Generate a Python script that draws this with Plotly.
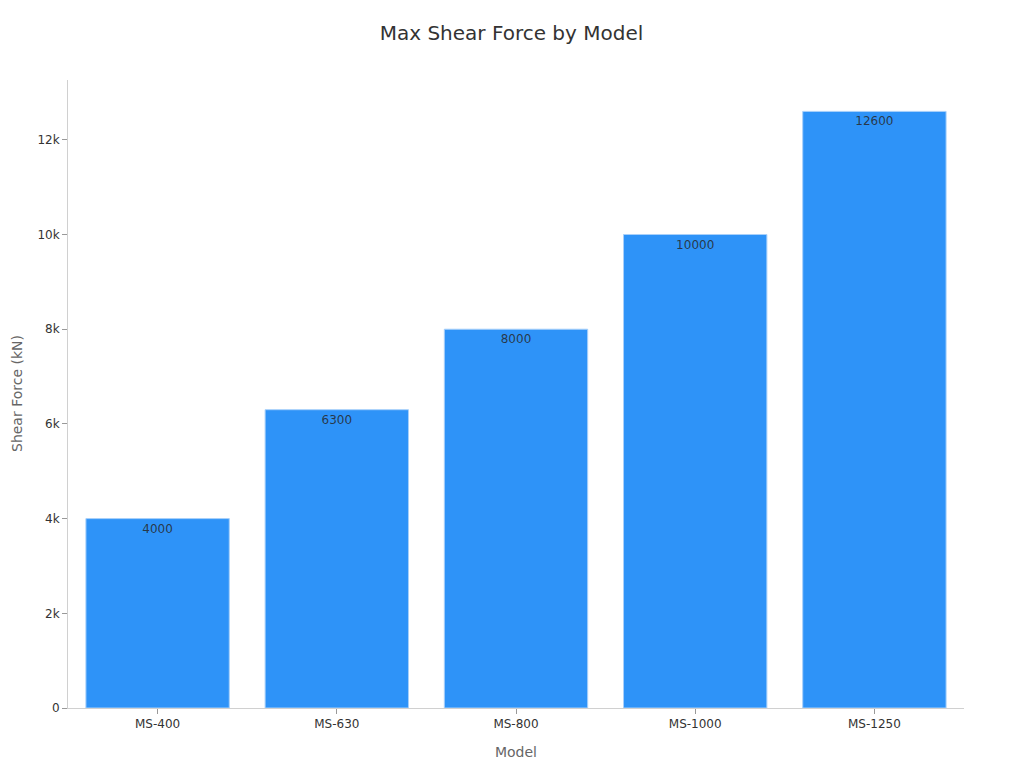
import plotly.graph_objects as go

models = ["MS-400", "MS-630", "MS-800", "MS-1000", "MS-1250"]
shear_force = [4000, 6300, 8000, 10000, 12600]

fig = go.Figure(go.Bar(
    x=models,
    y=shear_force,
    text=[str(v) for v in shear_force],
    textposition="inside",
    insidetextanchor="end",
    textfont=dict(family="DejaVu Sans", size=12, color="rgba(40,40,40,0.85)"),
    marker=dict(color="#2e93f8", line=dict(color="#a8d0fa", width=1)),
))

fig.update_layout(
    width=1024, height=768,
    margin=dict(l=60, r=68, t=72, b=68),
    paper_bgcolor="white", plot_bgcolor="white",
    font=dict(family="DejaVu Sans", color="#333"),
    title=dict(text="Max Shear Force by Model", x=0.5 - 8.5 / 1024, xanchor="center",
               y=1 - 25 / 768, yanchor="middle",
               font=dict(size=20, color="#333")),
    bargap=0.2,
    showlegend=False,
    annotations=[dict(
        text="Shear Force (kN)", xref="paper", yref="paper", x=0, y=0.5,
        xanchor="center", yanchor="middle", xshift=-51, textangle=-90,
        showarrow=False, font=dict(size=14, color="#666"),
    )],
)
fig.update_xaxes(
    title=dict(text="Model", font=dict(size=14, color="#666"), standoff=16),
    showline=True, linecolor="#d0d0d0", linewidth=1,
    ticks="outside", ticklen=5, tickcolor="#999", tickfont=dict(size=12, color="#333"),
    showgrid=False,
)
fig.update_yaxes(
    showline=True, linecolor="#d0d0d0", linewidth=1,
    ticks="outside", ticklen=5, tickcolor="#999", tickfont=dict(size=12, color="#333"),
    showgrid=False, zeroline=False,
    tickformat="~s", dtick=2000,
)

fig.write_html("out.html")
